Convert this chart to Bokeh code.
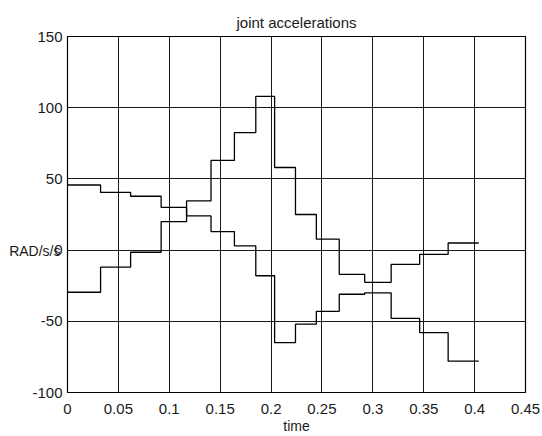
from bokeh.plotting import figure
from bokeh.models import FixedTicker, Range1d
from bokeh.embed import file_html
from bokeh.resources import INLINE

# step boundaries (time, s)
t_edges = [0, 0.0325, 0.062, 0.092, 0.117, 0.141, 0.164, 0.185, 0.2035, 0.224,
           0.2445, 0.267, 0.292, 0.318, 0.346, 0.374, 0.404]
# joint 1 accelerations (RAD/s/s), one value per interval
joint1 = [45.7, 40.5, 37.8, 30, 24, 13, 3, -18, -65, -52, -43, -31, -30, -48, -58, -78]
# joint 2 accelerations
joint2 = [-29.6, -12, -1.5, 20, 34.5, 63, 82.5, 108, 58, 25, 7.7, -17, -22.6, -10, -3, 5]

x_ticks = [0, 0.05, 0.1, 0.15, 0.2, 0.25, 0.3, 0.35, 0.4, 0.45]
x_labels = ["0", "0.05", "0.1", "0.15", "0.2", "0.25", "0.3", "0.35", "0.4", "0.45"]
y_ticks = [-100, -50, 0, 50, 100, 150]
y_labels = ["-100", "-50", "0", "50", "100", "150"]

FONT = "Liberation Sans"
TXT = "#1a1a1a"

p = figure(width=542, height=436, output_backend="svg", toolbar_location=None,
           x_range=Range1d(0, 0.45), y_range=Range1d(-100, 150),
           min_border_left=67, min_border_right=17, min_border_top=36,
           min_border_bottom=42, title="joint accelerations")

p.title.align = "center"
p.title.text_font = FONT
p.title.text_font_size = "15px"
p.title.text_font_style = "normal"
p.title.text_color = TXT
p.title.standoff = 11

p.outline_line_color = "black"
p.outline_line_width = 1.2
p.background_fill_color = "white"
p.border_fill_color = "white"

for ax in (p.xaxis[0], p.yaxis[0]):
    ax.major_tick_in = 0
    ax.major_tick_out = 0
    ax.minor_tick_line_color = None
    ax.axis_line_color = "black"
    ax.major_label_text_font = FONT
    ax.major_label_text_font_size = "15px"
    ax.major_label_text_color = TXT

p.xaxis.ticker = FixedTicker(ticks=x_ticks)
p.yaxis.ticker = FixedTicker(ticks=y_ticks)
p.xaxis.major_label_overrides = dict(zip(x_ticks, x_labels))
p.yaxis.major_label_overrides = dict(zip(y_ticks, y_labels))
p.xaxis.major_label_standoff = 11
p.yaxis.major_label_standoff = 5
p.xaxis.axis_label = "time"
p.xaxis.axis_label_text_font = FONT
p.xaxis.axis_label_text_font_size = "14px"
p.xaxis.axis_label_text_font_style = "normal"
p.xaxis.axis_label_text_color = TXT
p.xaxis.axis_label_standoff = 1

# horizontal y label, pushed down to the 0 line with blank leading lines
p.yaxis.axis_label = "\n\n\n\nRAD/s/s"
p.yaxis.axis_label_orientation = "horizontal"
p.yaxis.axis_label_text_font = FONT
p.yaxis.axis_label_text_font_size = "14px"
p.yaxis.axis_label_text_font_style = "normal"
p.yaxis.axis_label_text_color = TXT
p.yaxis.axis_label_text_line_height = 1.15
p.yaxis.axis_label_standoff = -31

p.xgrid.grid_line_color = "black"
p.ygrid.grid_line_color = "black"
p.xgrid.grid_line_alpha = 0.9
p.ygrid.grid_line_alpha = 0.9
p.xgrid.grid_line_width = 1
p.ygrid.grid_line_width = 1

p.step(t_edges, joint1 + [joint1[-1]], mode="after", line_color="black", line_width=1.3)
p.step(t_edges, joint2 + [joint2[-1]], mode="after", line_color="black", line_width=1.3)

open("out.html", "w").write(file_html(p, INLINE))
